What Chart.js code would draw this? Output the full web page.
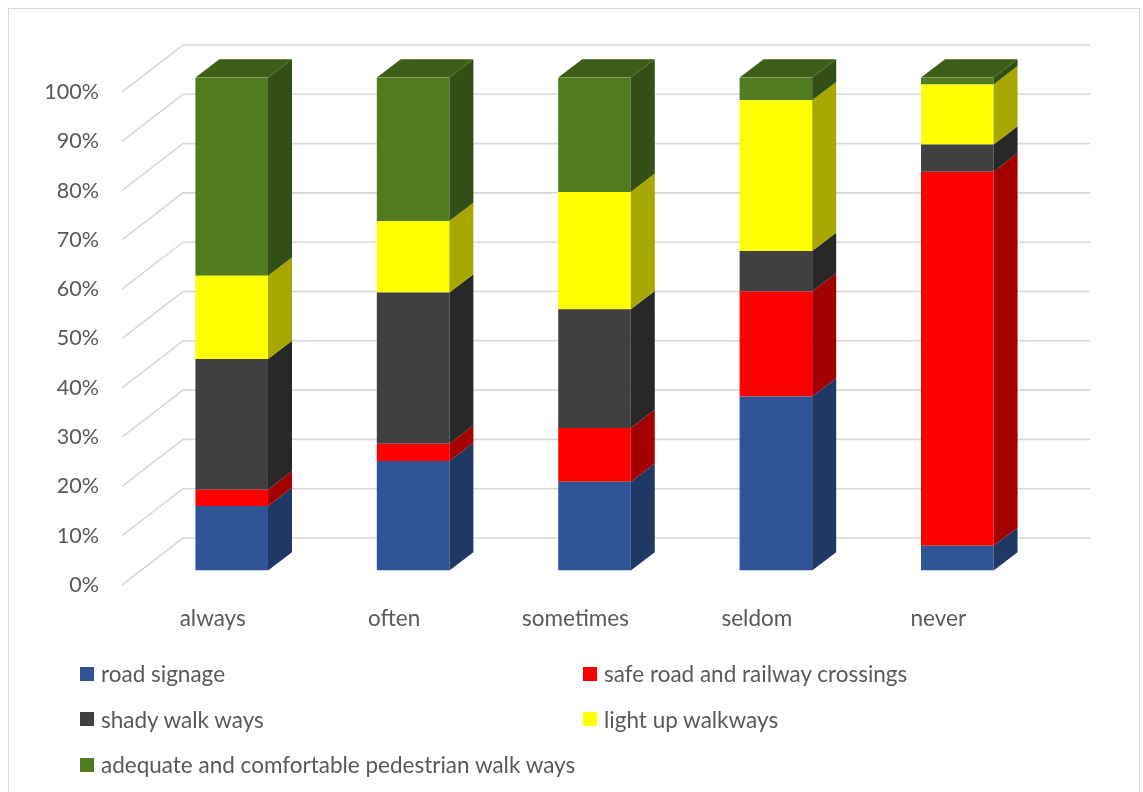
<!DOCTYPE html>
<html>
<head>
<meta charset="utf-8">
<script src="https://cdn.jsdelivr.net/npm/chart.js@4"></script>
<style>
  html, body { margin: 0; padding: 0; background: #fff; }
  body { width: 1143px; height: 792px; position: relative; overflow: hidden; font-family: Lato, 'Open Sans', sans-serif; }
  #frame { position: absolute; left: 8px; top: 8px; width: 1132px; height: 820px; border: 1.5px solid #d9d9d9; box-sizing: border-box; }
  #chart { position: absolute; left: 0; top: 0; }
  #legend { position: absolute; left: 80px; top: 651px; display: grid; grid-template-columns: 503px auto; row-gap: 0; }
  .item { display: flex; align-items: center; height: 45.5px; font-size: 22.5px; color: #595959; white-space: nowrap; }
  .sw { width: 14px; height: 14px; margin-right: 7px; flex: none; }
</style>
</head>
<body>
<div id="frame"></div>
<canvas id="chart" width="1143" height="792"></canvas>
<div id="legend"></div>
<script>
// categories and series (percent of respondents)
const categories = ['always', 'often', 'sometimes', 'seldom', 'never'];
const roadSignage      = [13.1, 22.2, 18.0, 35.3, 5.0];
const safeCrossings    = [3.3, 3.5, 10.9, 21.3, 75.9];
const shadyWalkways    = [26.5, 30.7, 24.1, 8.2, 5.5];
const lightUpWalkways  = [16.9, 14.5, 23.8, 30.6, 12.2];
const adequateWalkways = [40.2, 29.1, 23.2, 4.6, 1.4];
const yTicks = [0, 10, 20, 30, 40, 50, 60, 70, 80, 90, 100];

const series = [
  { label: 'road signage', data: roadSignage, front: '#2f5597', side: '#203864', top: '#25457a' },
  { label: 'safe road and railway crossings', data: safeCrossings, front: '#ff0000', side: '#a50000', top: '#c00000' },
  { label: 'shady walk ways', data: shadyWalkways, front: '#404040', side: '#282828', top: '#333333' },
  { label: 'light up walkways', data: lightUpWalkways, front: '#ffff00', side: '#a8a800', top: '#c8c800' },
  { label: 'adequate and comfortable pedestrian walk ways', data: adequateWalkways, front: '#507c1f', side: '#334f15', top: '#3d5e17' },
];

// 3D geometry
const FLOOR_DX = 61, FLOOR_DY = -47;   // back wall offset
const BAR_DX = 19, BAR_DY = -14.5;     // bar front plane offset
const DEPTH_DX = 24, DEPTH_DY = -18.3; // bar depth

const poly = (ctx, pts, color) => {
  ctx.beginPath();
  ctx.moveTo(pts[0][0], pts[0][1]);
  for (let i = 1; i < pts.length; i++) ctx.lineTo(pts[i][0], pts[i][1]);
  ctx.closePath();
  ctx.fillStyle = color;
  ctx.fill();
};

const threeD = {
  id: 'threeD',
  beforeDatasetsDraw(chart) {
    const { ctx, chartArea: a, scales: { y } } = chart;
    // back wall + floor gridlines
    ctx.save();
    ctx.strokeStyle = '#d9d9d9';
    ctx.lineWidth = 1.6;
    y.ticks.forEach((t, i) => {
      const py = y.getPixelForTick(i);
      ctx.beginPath();
      ctx.moveTo(a.left, py);
      ctx.lineTo(a.left + FLOOR_DX, py + FLOOR_DY);
      ctx.lineTo(a.right + FLOOR_DX, py + FLOOR_DY);
      ctx.stroke();
    });
    ctx.restore();
    ctx.save();
    ctx.translate(BAR_DX, BAR_DY);
  },
  afterDatasetsDraw(chart) {
    const { ctx } = chart;
    categories.forEach((c, j) => {
      let topIdx = -1;
      series.forEach((s, i) => {
        const bar = chart.getDatasetMeta(i).data[j];
        if (!bar || s.data[j] <= 0) return;
        topIdx = i;
        const { x, y, base, width } = bar.getProps(['x', 'y', 'base', 'width'], true);
        const r = x + width / 2;
        poly(ctx, [[r, y], [r + DEPTH_DX, y + DEPTH_DY], [r + DEPTH_DX, base + DEPTH_DY], [r, base]], s.side);
      });
      if (topIdx >= 0) {
        const bar = chart.getDatasetMeta(topIdx).data[j];
        const { x, y, width } = bar.getProps(['x', 'y', 'width'], true);
        const l = x - width / 2, r = x + width / 2;
        poly(ctx, [[l, y], [l + DEPTH_DX, y + DEPTH_DY], [r + DEPTH_DX, y + DEPTH_DY], [r, y]], series[topIdx].top);
      }
    });
    ctx.restore();
  }
};

const chart = new Chart(document.getElementById('chart'), {
  type: 'bar',
  data: {
    labels: categories,
    datasets: series.map(s => ({
      label: s.label, data: s.data, backgroundColor: s.front, borderWidth: 0,
      categoryPercentage: 1, barPercentage: 0.4
    }))
  },
  options: {
    responsive: false, animation: false, devicePixelRatio: 1,
    layout: { padding: { top: 92, right: 114, left: 0, bottom: 0 } },
    plugins: { legend: { display: false }, tooltip: { enabled: false } },
    scales: {
      x: {
        stacked: true,
        grid: { display: false, drawTicks: false }, border: { display: false },
        ticks: { color: '#595959', padding: 20, font: { family: 'Lato', size: 22.5 } },
        afterFit: s => { s.height = 207; }
      },
      y: {
        stacked: true, min: 0, max: 100,
        afterBuildTicks: s => { s.ticks = yTicks.map(v => ({ value: v })); },
        grid: { display: false, drawTicks: false }, border: { display: false },
        ticks: { color: '#595959', padding: 23, font: { family: 'Lato', size: 21.5 }, callback: v => v + '%' },
        afterFit: s => { s.width = 122; }
      }
    }
  },
  plugins: [threeD]
});

// legend in two columns, row by row
document.getElementById('legend').innerHTML = series.map(s =>
  `<div class="item"><span class="sw" style="background:${s.front}"></span>${s.label}</div>`).join('');
</script>
</body>
</html>
